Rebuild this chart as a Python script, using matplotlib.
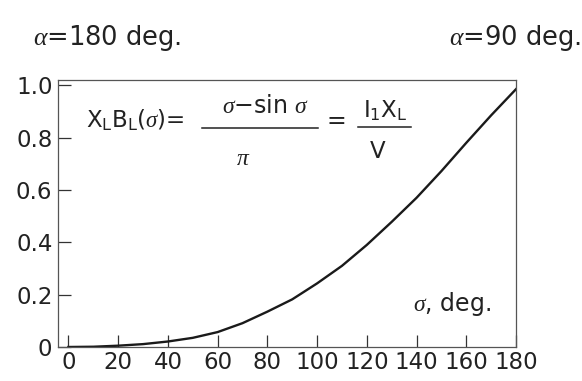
import matplotlib.pyplot as plt

plt.rcParams['font.family'] = ['DejaVu Sans']
plt.rcParams['mathtext.fontset'] = 'custom'
plt.rcParams['mathtext.rm'] = 'DejaVu Sans'
plt.rcParams['mathtext.it'] = 'Liberation Serif:italic'
plt.rcParams['mathtext.bf'] = 'DejaVu Sans:bold'

# conduction angle sigma (deg) and normalised susceptance X_L*B_L
sigma = [0, 10, 20, 30, 40, 50, 60, 70, 80, 90,
         100, 110, 120, 130, 140, 150, 160, 170, 180]
xb = [0.0, 0.001, 0.005, 0.011, 0.021, 0.035, 0.057, 0.091, 0.135, 0.182,
      0.243, 0.31, 0.39, 0.478, 0.57, 0.672, 0.78, 0.885, 0.985]

xticks = [0, 20, 40, 60, 80, 100, 120, 140, 160, 180]
yticks = [0, 0.2, 0.4, 0.6, 0.8, 1.0]
ylabels = ['0', '0.2', '0.4', '0.6', '0.8', '1.0']

W, H = 582, 381
fig = plt.figure(figsize=(W / 100, H / 100), dpi=100)
ax = fig.add_axes([58 / W, 1 - 347 / H, (516 - 58) / W, (347 - 80) / H])

ax.plot(sigma, xb, color='#1a1a1a', lw=1.7)
ax.set_xlim(-4.2, 180)
ax.set_ylim(0, 1.02)
ax.set_xticks(xticks)
ax.set_yticks(yticks)
ax.set_yticklabels(ylabels)
ax.tick_params(direction='in', length=9, width=0.9, color='#333333',
               labelsize=16.5, labelcolor='#222222')
ax.tick_params(axis='y', pad=4)
ax.tick_params(axis='x', pad=3)
for s in ax.spines.values():
    s.set_color('#555555')
    s.set_linewidth(0.9)

ax.text(0.945, 0.16, r'$\sigma$, deg.', transform=ax.transAxes,
        ha='right', va='center', fontsize=17, color='#222222')


def px(x, y):
    return x / W, 1 - y / H


tc = '#222222'
fig.text(*px(33, 38), r'$\alpha$=180 deg.', fontsize=18.5, color=tc,
         ha='left', va='center')
fig.text(*px(581, 38), r'$\alpha$=90 deg.', fontsize=18.5, color=tc,
         ha='right', va='center')

# formula inside the plot area
fig.text(*px(86, 120), r'X$_\mathrm{L}$B$_\mathrm{L}$($\sigma$)=', fontsize=16.5,
         color=tc, ha='left', va='center')
fig.text(*px(266, 106), r'$\sigma$$-$sin $\sigma$', fontsize=17, color=tc,
         ha='center', va='center')
fig.text(*px(243, 158), r'$\pi$', fontsize=17, color=tc, ha='center', va='center')
fig.add_artist(plt.Line2D([202 / W, 318 / W], [1 - 128 / H, 1 - 128 / H],
                          color=tc, lw=1.1))
fig.text(*px(336, 121), '=', fontsize=17, color=tc, ha='center', va='center')
fig.text(*px(385, 111), r'I$_\mathrm{1}$X$_\mathrm{L}$', fontsize=16.5, color=tc,
         ha='center', va='center')
fig.add_artist(plt.Line2D([358 / W, 411 / W], [1 - 127 / H, 1 - 127 / H],
                          color=tc, lw=1.1))
fig.text(*px(378, 151), 'V', fontsize=16.5, color=tc, ha='center', va='center')

fig.savefig('out.png', dpi=100)
